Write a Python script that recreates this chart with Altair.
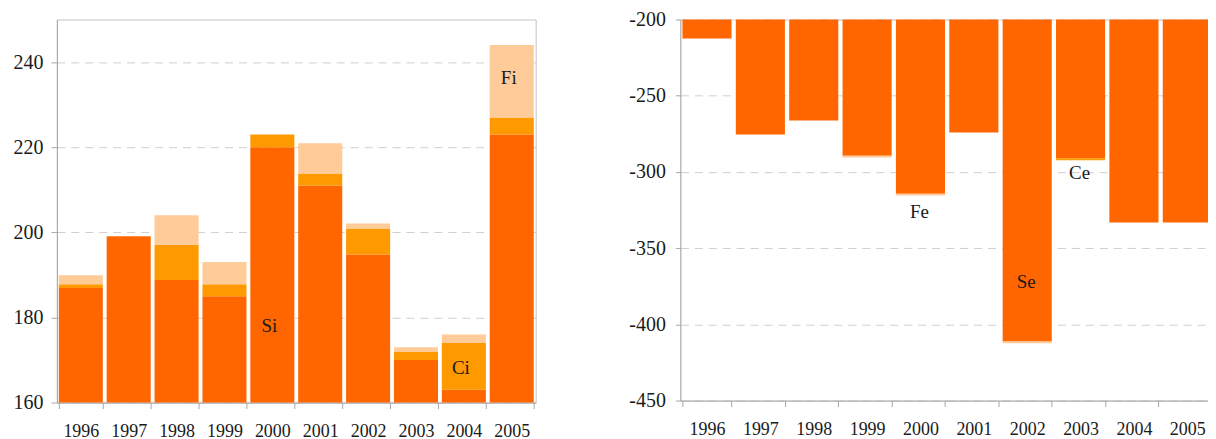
import altair as alt
import pandas as pd

years = ["1996", "1997", "1998", "1999", "2000", "2001", "2002", "2003", "2004", "2005"]

# Left panel: stacked components (Si base, Ci middle, Fi top)
si = [186.9, 199.1, 188.8, 185.0, 220.0, 211.0, 194.8, 170.0, 163.0, 223.0]
ci = [0.9, 0.0, 8.2, 2.8, 3.0, 2.8, 6.1, 1.9, 11.0, 4.0]
fi = [2.1, 0.0, 7.0, 5.2, 0.0, 7.1, 1.2, 1.1, 2.0, 17.0]

# Right panel: stacked components (Se base, Ce, Fe), negative
se = [-212.5, -275.4, -266.2, -289.4, -314.3, -274.1, -411.3, -291.1, -333.1, -333.1]
ce = [0.0, 0.0, 0.0, 0.0, 0.0, 0.0, 0.0, -1.3, 0.0, 0.0]
fe = [0.0, 0.0, 0.0, -1.1, -1.1, 0.0, -1.1, 0.0, 0.0, 0.0]

left_labels = ["Si", "Ci", "Fi"]
left_label_years = ["2000", "2004", "2005"]
left_label_vals = [177.9, 168.2, 236.3]

right_labels = ["Fe", "Se", "Ce"]
right_label_years = ["2000", "2002", "2003"]
right_label_vals = [-326.0, -372.5, -300.4]

colors = ["#FF6600", "#FF9900", "#FFCC99"]
FONT = "Liberation Serif"
AXIS_GREY = "#A8A8A8"
TEXT = "#1a1a1a"

left_df = pd.DataFrame({
    "year": years * 3,
    "part": ["Si"] * 10 + ["Ci"] * 10 + ["Fi"] * 10,
    "ord": [0] * 10 + [1] * 10 + [2] * 10,
    "value": si + ci + fi,
})
right_df = pd.DataFrame({
    "year": years * 3,
    "part": ["Se"] * 10 + ["Ce"] * 10 + ["Fe"] * 10,
    "ord": [0] * 10 + [1] * 10 + [2] * 10,
    "value": se + ce + fe,
})
left_lab = pd.DataFrame({"year": left_label_years, "v": left_label_vals, "label": left_labels})
right_lab = pd.DataFrame({"year": right_label_years, "v": right_label_vals, "label": right_labels})


def x_enc():
    return alt.X(
        "year:N",
        sort=years,
        scale=alt.Scale(paddingInner=0.08, paddingOuter=0.04),
        axis=alt.Axis(
            title=None, labelAngle=0, tickBand="extent", grid=False,
            domainColor=AXIS_GREY, tickColor=AXIS_GREY, tickSize=6,
            labelFont=FONT, labelFontSize=18, labelColor=TEXT, labelPadding=14,
        ),
    )


def y_axis(vals, ext, fmt_hyphen=False):
    kw = dict(
        title=None, values=vals, grid=True, gridDash=[8, 6], gridColor="#CFCFCF",
        domainColor=AXIS_GREY, tickColor=AXIS_GREY, tickSize=6,
        labelFont=FONT, labelFontSize=20, labelColor=TEXT, labelPadding=8,
        minExtent=ext, maxExtent=ext,
    )
    if fmt_hyphen:
        kw["labelExpr"] = "toString(datum.value)"
        kw["tickSize"] = 5
        kw["labelPadding"] = 10
    return alt.Axis(**kw)


left_bars = alt.Chart(left_df).mark_bar(clip=True).encode(
    x=x_enc(),
    y=alt.Y("value:Q", stack="zero",
            scale=alt.Scale(domain=[160, 250], nice=False, zero=False),
            axis=y_axis([160, 180, 200, 220, 240], 48)),
    color=alt.Color("part:N", scale=alt.Scale(domain=["Si", "Ci", "Fi"], range=colors), legend=None),
    order=alt.Order("ord:Q"),
)
left_text = alt.Chart(left_lab).mark_text(font=FONT, fontSize=19, color=TEXT, dx=-3).encode(
    x=alt.X("year:N", sort=years), y=alt.Y("v:Q"), text="label:N"
)
left = alt.layer(left_bars, left_text).properties(
    width=480, height=384,
    view=alt.ViewBackground(stroke="#C4C4C4", strokeWidth=1),
)

right_bars = alt.Chart(right_df).mark_bar(clip=True).encode(
    x=x_enc(),
    y=alt.Y("value:Q", stack="zero",
            scale=alt.Scale(domain=[-450, -200], nice=False, zero=False),
            axis=y_axis([-450, -400, -350, -300, -250, -200], 60, True)),
    color=alt.Color("part:N", scale=alt.Scale(domain=["Se", "Ce", "Fe"], range=colors), legend=None),
    order=alt.Order("ord:Q"),
)
right_text = alt.Chart(right_lab).mark_text(font=FONT, fontSize=19, color=TEXT, dx=-1).encode(
    x=alt.X("year:N", sort=years), y=alt.Y("v:Q"), text="label:N"
)
right = alt.layer(right_bars, right_text).properties(
    width=535, height=382,
    view=alt.ViewBackground(stroke="#D3DAE4", strokeWidth=1),
)

chart = alt.hconcat(left, right, spacing=83).resolve_scale(color="independent", y="independent").properties(
    padding={"left": 0, "top": 0, "right": -7, "bottom": 0},
).configure(background="white")

chart.save("out.html", embed_options={"renderer": "svg", "actions": False})
